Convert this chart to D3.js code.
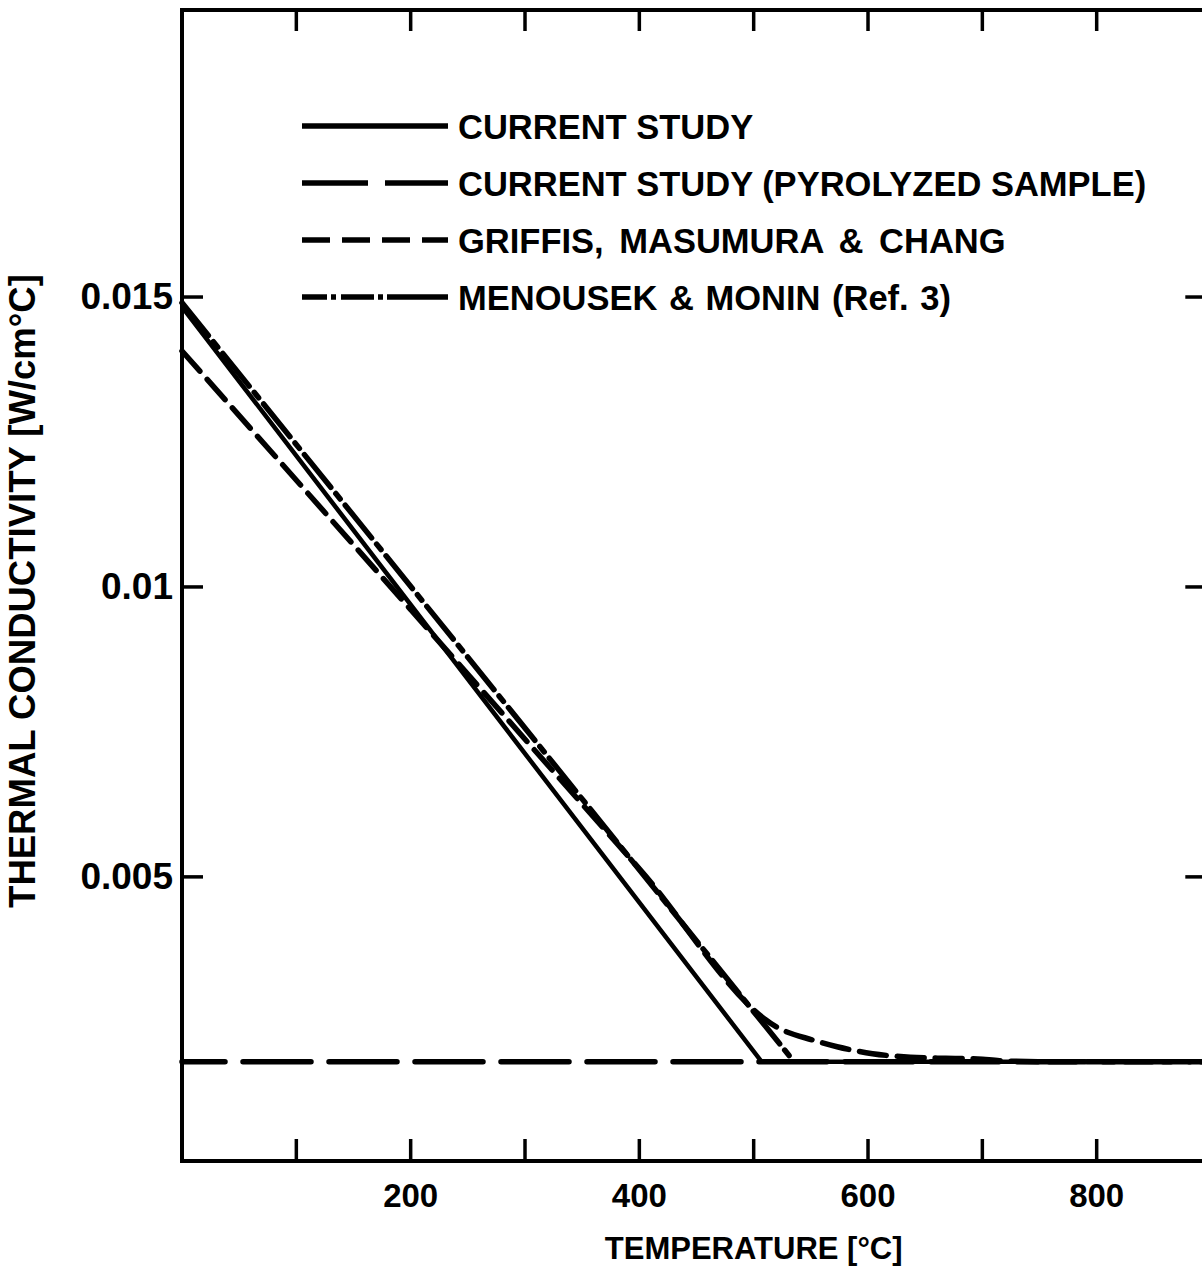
<!DOCTYPE html>
<html>
<head>
<meta charset="utf-8">
<script src="https://cdn.jsdelivr.net/npm/d3@7"></script>
<style>
  html, body { margin: 0; padding: 0; background: #fff; }
  svg { display: block; }
  text { font-family: "Liberation Sans", Arial, Helvetica, sans-serif; fill: #000; }
</style>
</head>
<body>
<svg id="chart" width="1202" height="1273"></svg>
<script>
// ---- data ----
const xTicks = [100, 200, 300, 400, 500, 600, 700, 800];
const xTickLabels = [200, 400, 600, 800];
const yTicks = [0.005, 0.01, 0.015];
const yTickLabels = ["0.005", "0.01", "0.015"];

const currentStudy = [[0, 0.01483], [507, 0.00181], [895, 0.00181]];
const pyrolyzed = [[0, 0.00181], [895, 0.00181]];
const griffis = [[0, 0.01407], [200, 0.00961], [400, 0.00514], [525, 0.00236], [551, 0.00219],
                 [573, 0.00207], [604, 0.00195], [637, 0.00189], [668, 0.00187], [696, 0.00186],
                 [715, 0.00183], [760, 0.00181], [895, 0.00181]];
const menousek = [[0, 0.0149], [535, 0.00182]];

const legendLabels = ["CURRENT STUDY", "CURRENT STUDY (PYROLYZED SAMPLE)",
                      "GRIFFIS, MASUMURA & CHANG", "MENOUSEK & MONIN (Ref. 3)"];
const seriesList = [currentStudy, pyrolyzed, griffis, menousek];
const dashes = [null, "68,18", "27,11", "42,8,7,8"];
const legendDashes = [null, "66,17", "28,12", "25,4,5,5,33,4,5,4,80"];

const xLabel = "TEMPERATURE [°C]";
const yLabel = "THERMAL CONDUCTIVITY [W/cm°C]";

// ---- scales ----
const svg = d3.select("#chart");
const x = d3.scaleLinear().domain([0, 895]).range([182, 1205.3]);
const y = d3.scaleLinear().domain([0.0001, 0.01995]).range([1161, 10]);

const X0 = x(0), X1 = x(895), Y0 = y(0.0001), Y1 = y(0.01995);

// frame
svg.append("path")
  .attr("d", `M${X1},${Y1} L${X0},${Y1} L${X0},${Y0} L${X1},${Y0} Z`)
  .attr("fill", "none").attr("stroke", "#000").attr("stroke-width", 4);

const tickW = 3.5;
svg.append("g").selectAll("line").data(xTicks).join("line")
  .attr("x1", d => x(d)).attr("x2", d => x(d))
  .attr("y1", Y0).attr("y2", Y0 - 22)
  .attr("stroke", "#000").attr("stroke-width", tickW);
svg.append("g").selectAll("line").data(xTicks).join("line")
  .attr("x1", d => x(d)).attr("x2", d => x(d))
  .attr("y1", Y1).attr("y2", Y1 + 21)
  .attr("stroke", "#000").attr("stroke-width", tickW);
svg.append("g").selectAll("line").data(yTicks).join("line")
  .attr("x1", X0).attr("x2", X0 + 21)
  .attr("y1", d => y(d)).attr("y2", d => y(d))
  .attr("stroke", "#000").attr("stroke-width", tickW);
svg.append("g").selectAll("line").data(yTicks).join("line")
  .attr("x1", X1).attr("x2", X1 - 20)
  .attr("y1", d => y(d)).attr("y2", d => y(d))
  .attr("stroke", "#000").attr("stroke-width", tickW);

// tick labels
svg.append("g").selectAll("text").data(xTickLabels).join("text")
  .attr("x", d => x(d)).attr("y", Y0 + 46)
  .attr("text-anchor", "middle")
  .attr("font-size", 33).attr("font-weight", "bold")
  .text(d => d);
svg.append("g").selectAll("text").data(yTicks).join("text")
  .attr("x", X0 - 9).attr("y", d => y(d) + 12)
  .attr("text-anchor", "end")
  .attr("font-size", 37).attr("font-weight", "bold")
  .text((d, i) => yTickLabels[i]);

// axis titles
svg.append("text")
  .attr("x", x(500)).attr("y", 1259)
  .attr("text-anchor", "middle")
  .attr("font-size", 31).attr("font-weight", "bold")
  .text(xLabel);
svg.append("text")
  .attr("transform", `translate(35, ${591}) rotate(-90)`)
  .attr("text-anchor", "middle")
  .attr("font-size", 36.5).attr("font-weight", "bold")
  .text(yLabel);

// series
const line = d3.line().x(d => x(d[0])).y(d => y(d[1]));
const lineCurve = d3.line().x(d => x(d[0])).y(d => y(d[1])).curve(d3.curveMonotoneX);
seriesList.forEach((s, i) => {
  svg.append("path")
    .attr("d", (i === 2 ? lineCurve : line)(s))
    .attr("fill", "none").attr("stroke", "#000")
    .attr("stroke-width", i === 0 ? 4.5 : 5.5)
    .attr("stroke-linecap", i === 0 ? "butt" : "round")
    .attr("stroke-dasharray", dashes[i])
    .attr("stroke-dashoffset", i === 1 ? 25 : 0);
});

// legend
const legRowY = [126, 183, 240, 297];
const wordSp = [0, 0, 6, 2];
const leg = svg.append("g");
legendLabels.forEach((lab, i) => {
  leg.append("line")
    .attr("x1", 302).attr("x2", 448)
    .attr("y1", legRowY[i]).attr("y2", legRowY[i])
    .attr("stroke", "#000").attr("stroke-width", 5.5)
    .attr("stroke-dasharray", legendDashes[i]);
  leg.append("text")
    .attr("x", 458).attr("y", legRowY[i] + 13)
    .attr("font-size", 34.5)
    .attr("font-weight", "bold")
    .attr("word-spacing", wordSp[i])
    .text(lab);
});
</script>
</body>
</html>
